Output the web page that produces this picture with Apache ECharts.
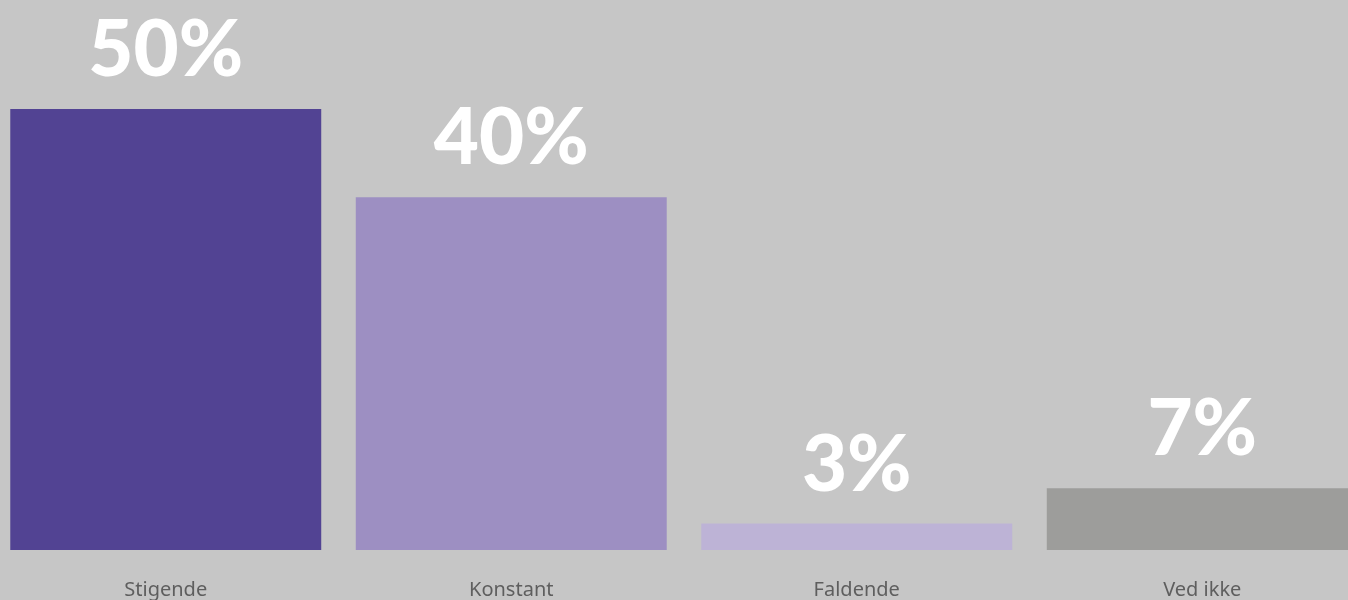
<!DOCTYPE html>
<html>
<head>
<meta charset="utf-8">
<script src="https://cdn.jsdelivr.net/npm/echarts@6/dist/echarts.min.js"></script>
<style>
html,body{margin:0;padding:0;background:#c6c6c6;overflow:hidden;width:1348px;height:600px;}
#chart{position:absolute;left:-7px;top:0;width:1382px;height:600px;}
</style>
</head>
<body>
<div id="chart"></div>
<script>
const categories = ['Stigende', 'Konstant', 'Faldende', 'Ved ikke'];
const values = [50, 40, 3, 7];
const barColors = ['#524393', '#9d8fc2', '#bdb3d6', '#9d9d9b'];

const chart = echarts.init(document.getElementById('chart'));
chart.setOption({
  backgroundColor: '#c6c6c6',
  animation: false,
  grid: { left: 0, right: 0, top: 109, bottom: 50, containLabel: false },
  xAxis: {
    type: 'category',
    data: categories,
    axisLine: { show: false },
    axisTick: { show: false },
    axisLabel: { margin: 30, fontFamily: 'Noto Sans', fontSize: 20, color: '#5e5e5e' }
  },
  yAxis: { type: 'value', min: 0, max: 50, show: false, splitLine: { show: false } },
  series: [{
    type: 'bar',
    data: values.map((v, i) => ({ value: v, itemStyle: { color: barColors[i] } })),
    barCategoryGap: '10%',
    label: {
      show: true,
      position: 'top',
      distance: 19,
      formatter: '{c}%',
      fontFamily: 'Lato',
      fontWeight: 900,
      fontSize: 78,
      color: '#ffffff'
    }
  }]
});
</script>
</body>
</html>
